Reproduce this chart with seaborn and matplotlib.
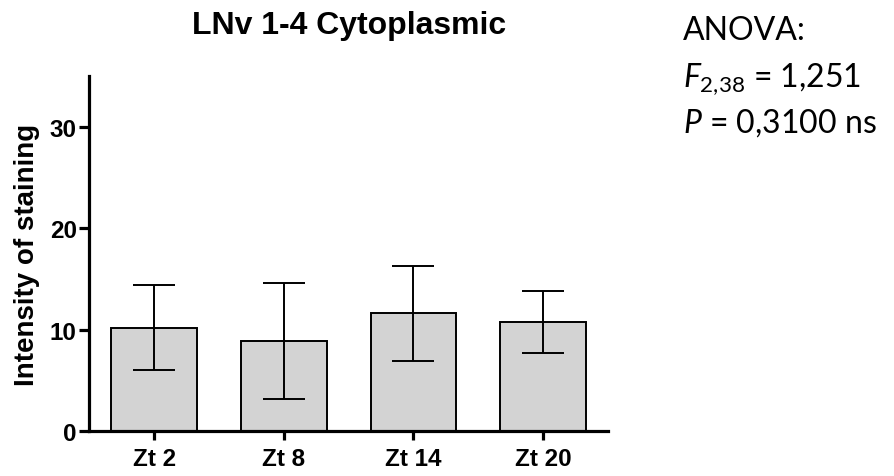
import matplotlib
matplotlib.use("Agg")
import matplotlib.pyplot as plt
import seaborn as sns
import pandas as pd

categories = ["Zt 2", "Zt 8", "Zt 14", "Zt 20"]
means = [10.2, 8.85, 11.6, 10.75]
errors = [4.2, 5.7, 4.65, 3.1]
yticks = [0, 10, 20, 30]

sns.set_theme(style="white")
plt.rcParams["font.family"] = ["Liberation Sans", "DejaVu Sans"]
plt.rcParams["mathtext.fontset"] = "custom"
plt.rcParams["mathtext.rm"] = "Lato"
plt.rcParams["mathtext.it"] = "Lato:italic"
plt.rcParams["text.color"] = "black"
plt.rcParams["axes.labelcolor"] = "black"
plt.rcParams["xtick.color"] = "black"
plt.rcParams["ytick.color"] = "black"

df = pd.DataFrame({"cat": categories, "mean": means})

fig = plt.figure(figsize=(8.94, 4.77), dpi=100)
ax = fig.add_axes([0.0999, 0.0943, 0.5801, 0.7443])

sns.barplot(data=df, x="cat", y="mean", ax=ax, color="#d3d3d3",
            edgecolor="black", linewidth=1.4, width=0.66, errorbar=None,
            saturation=1)
ax.errorbar(x=list(range(len(categories))), y=means, yerr=errors, fmt="none",
            ecolor="black", elinewidth=1.4, capsize=15, capthick=1.4)

ax.set_xlim(-0.5, 3.5)
ax.set_ylim(0, 35)
ax.set_yticks(yticks)
ax.set_xlabel("")
ax.set_ylabel("Intensity of staining", fontsize=20, fontweight="bold",
              labelpad=7, color="black")
ax.set_title("LNv 1-4 Cytoplasmic", fontsize=23, fontweight="bold", pad=31,
             color="black")

for s in ["top", "right"]:
    ax.spines[s].set_visible(False)
for s in ["left", "bottom"]:
    ax.spines[s].set_linewidth(2.3)
    ax.spines[s].set_color("black")
ax.tick_params(axis="y", direction="out", length=7, width=2.3,
               labelsize=17.5, left=True, pad=2)
ax.tick_params(axis="x", direction="out", length=6.5, width=2.3,
               labelsize=17.5, bottom=True, pad=5)
for lab in ax.get_xticklabels() + ax.get_yticklabels():
    lab.set_fontweight("bold")

fig.text(683 / 894, 1 - 40 / 477, "ANOVA:", fontsize=23, family="Lato", va="baseline")
fig.text(683 / 894, 1 - 87 / 477, r"$F_{\mathrm{2{,}38}}$ = 1,251", fontsize=23,
         family="Lato", va="baseline")
fig.text(683 / 894, 1 - 133 / 477, r"$P$ = 0,3100 ns", fontsize=23, family="Lato",
         va="baseline")

fig.savefig("out.png", dpi=100)
